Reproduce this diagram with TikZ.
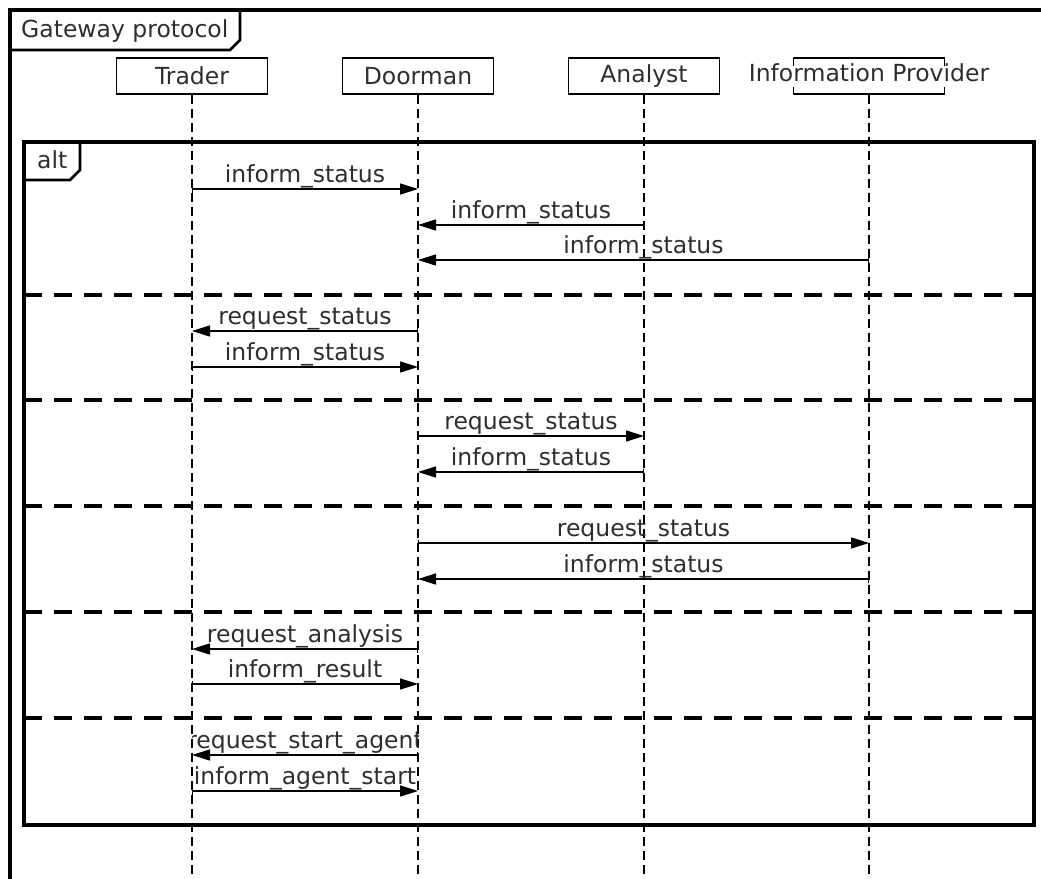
\documentclass[tikz,border=0pt]{standalone}
\usepackage{fontspec}
\setmainfont{DejaVu Sans}
\usetikzlibrary{arrows.meta,calc}
\begin{document}
\begin{tikzpicture}[x=1pt,y=-1pt,
  every node/.style={font=\fontsize{23.5}{27}\selectfont, text=black!82},
  head/.style={draw, line width=1.4pt, minimum width=151pt, minimum height=36pt, inner sep=0pt},
  life/.style={line width=1.5pt, dash pattern=on 9pt off 5pt},
  frame/.style={line width=3.4pt, line join=miter},
  tab/.style={line width=2.8pt},
  sep/.style={line width=3.4pt, dash pattern=on 18pt off 12pt},
  msg/.style={line width=1.5pt, {Bar[width=7pt,line width=1.4pt]}-{Triangle[length=18pt,width=11pt]}},
  lbl/.style={anchor=base, inner sep=0pt, yshift=6.5pt}
]
\clip (0,0) rectangle (1041,878);
\coordinate (bot) at (0,880);

% lifeline heads
\node[head] (t) at (192,76) {Trader};
\node[head] (d) at (418,76) {Doorman};
\node[head] (a) at (644,76) {Analyst};
\node[head] (ip) at (869,76) {};
\node[fill=white, inner xsep=1pt, inner ysep=0pt, text height=16pt, text depth=5pt] (iplabel) at (869,76) {Information Provider};

% lifelines
\foreach \n in {t,d,a,ip}
  \draw[life] (\n.south) -- (\n.south |- bot);

% outer frame with its name tab
\draw[frame] (10,900) -- (10,10) -- (1060,10);
\draw[tab] (10,50) -- (230,50) -- (240,40) -- (240,10);
\node[anchor=base west, inner sep=0pt] (gw) at (21,37) {Gateway protocol};

% combined fragment
\draw[frame] (24,142) rectangle (1034,825);
\draw[tab] (24,180) -- (70,180) -- (80,170) -- (80,142);
\node[anchor=base west, inner sep=0pt] (alt) at (37,168) {alt};
\foreach \y in {295,400,506,612,718}
  \draw[sep] (24,\y) -- (1034,\y);

% messages
\foreach \s/\e/\y/\txt in {
  t/d/189/inform\_status,
  a/d/225/inform\_status,
  ip/d/260/inform\_status,
  d/t/331/request\_status,
  t/d/367/inform\_status,
  d/a/436/request\_status,
  a/d/472/inform\_status,
  d/ip/543/request\_status,
  ip/d/579/inform\_status,
  d/t/649/request\_analysis,
  t/d/684/inform\_result}
{
  \coordinate (row) at (0,\y);
  \draw[msg] (\s.south |- row) -- (\e.south |- row) node[lbl, midway] {\txt};
}

% last two messages: labels wider than the gap are cut at the lifelines
\foreach \s/\e/\y/\txt in {
  d/t/755/request\_start\_agent,
  t/d/791/inform\_agent\_start}
{
  \coordinate (row) at (0,\y);
  \begin{scope}
    \clip (t.south |- row) ++(0,-30) rectangle (d.south |- row);
    \node[lbl] (m) at ($(t.south |- row)!0.5!(d.south |- row)$) {\txt};
  \end{scope}
  \draw[msg] (\s.south |- row) -- (\e.south |- row);
}
\end{tikzpicture}
\end{document}
